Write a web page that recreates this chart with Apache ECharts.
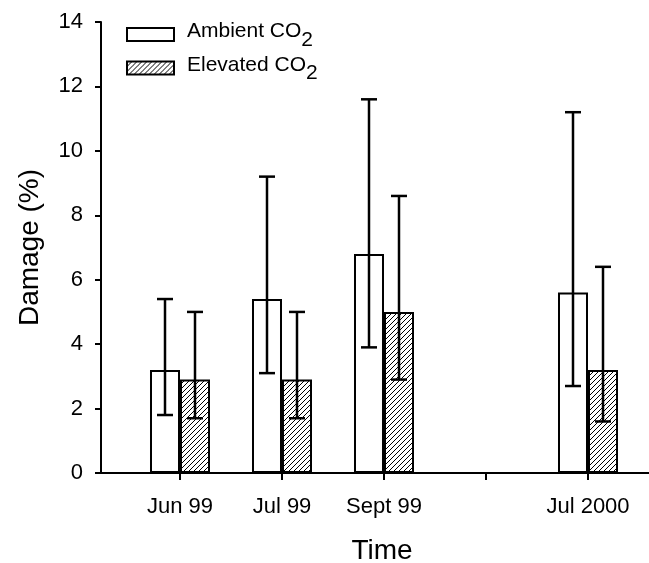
<!DOCTYPE html>
<html>
<head>
<meta charset="utf-8">
<script src="https://cdn.jsdelivr.net/npm/echarts@6/dist/echarts.min.js"></script>
<style>html,body{margin:0;padding:0;background:#fff}#c{width:649px;height:563px}</style>
</head>
<body>
<div id="c"></div>
<script>
const categories = ['Jun 99', 'Jul 99', 'Sept 99', '', 'Jul 2000'];
const yTicks = [0, 2, 4, 6, 8, 10, 12, 14];
const ambient = [3.2, 5.4, 6.8, null, 5.6];
const ambientLow = [1.8, 3.1, 3.9, null, 2.7];
const ambientHigh = [5.4, 9.2, 11.6, null, 11.2];
const elevated = [2.9, 2.9, 5.0, null, 3.2];
const elevatedLow = [1.7, 1.7, 2.9, null, 1.6];
const elevatedHigh = [5.0, 5.0, 8.6, null, 6.4];

const FONT = '"Liberation Sans", Arial, sans-serif';

function hatch() {
  const s = 5;
  const c = document.createElement('canvas');
  c.width = s; c.height = s;
  const g = c.getContext('2d');
  g.fillStyle = '#fff'; g.fillRect(0, 0, s, s);
  g.strokeStyle = '#000'; g.lineWidth = 1;
  g.beginPath();
  g.moveTo(-1, s + 1); g.lineTo(s + 1, -1);
  g.moveTo(-1 - s, s + 1); g.lineTo(1, -1);
  g.moveTo(s - 1, 2 * s + 1); g.lineTo(2 * s + 1, s - 1);
  g.stroke();
  return c;
}

function barData(vals) {
  return vals.map((v, i) => v == null ? null : [i, v]).filter(d => d);
}
function errData(lo, hi) {
  return lo.map((v, i) => v == null ? null : [i, lo[i], hi[i]]).filter(d => d);
}
function errRender(offset) {
  return function (params, api) {
    const x = api.value(0);
    const pLo = api.coord([x, api.value(1)]);
    const pHi = api.coord([x, api.value(2)]);
    const cx = pLo[0] + offset;
    const hw = 8;
    const st = { stroke: '#000', lineWidth: 2.5 };
    return {
      type: 'group',
      children: [
        { type: 'line', shape: { x1: cx, y1: pLo[1], x2: cx, y2: pHi[1] }, style: st },
        { type: 'line', shape: { x1: cx - hw, y1: pLo[1], x2: cx + hw, y2: pLo[1] }, style: st },
        { type: 'line', shape: { x1: cx - hw, y1: pHi[1], x2: cx + hw, y2: pHi[1] }, style: st }
      ]
    };
  };
}

const pattern = { image: hatch(), repeat: 'repeat' };
const chart = echarts.init(document.getElementById('c'), null, { renderer: 'canvas' });
chart.setOption({
  animation: false,
  backgroundColor: '#fff',
  textStyle: { fontFamily: FONT, color: '#000' },
  grid: { left: 101, right: -14, top: 22, bottom: 90, containLabel: false, outerBoundsMode: 'none' },
  legend: {
    orient: 'vertical',
    left: 126, top: 21, padding: 0,
    itemWidth: 47, itemHeight: 13, itemGap: 4,
    icon: 'rect',
    data: ['Ambient CO2', 'Elevated CO2'],
    formatter: function (name) {
      return '{t|' + name.slice(0, -1) + '}{s|2}';
    },
    textStyle: {
      color: '#000', fontFamily: FONT, fontSize: 21,
      rich: {
        t: { fontSize: 21, fontFamily: FONT, color: '#000', padding: [0, 0, 6, 8] },
        s: { fontSize: 21, fontFamily: FONT, color: '#000', padding: [11, 0, 0, 0] }
      }
    }
  },
  xAxis: {
    type: 'value',
    min: -0.7745, max: 4.7353,
    name: 'Time', nameLocation: 'middle', nameGap: 64,
    nameTextStyle: { fontSize: 28, fontFamily: FONT, color: '#000' },
    axisLine: { show: true, onZero: false, lineStyle: { color: '#000', width: 2 } },
    axisTick: { show: true, inside: false, length: 7, customValues: [0, 1, 2, 3, 4], lineStyle: { color: '#000', width: 2 } },
    axisLabel: {
      customValues: [0, 1, 2, 4], margin: 23, fontSize: 22, fontFamily: FONT, color: '#000',
      formatter: v => categories[Math.round(v)]
    },
    splitLine: { show: false }
  },
  yAxis: {
    type: 'value',
    min: yTicks[0], max: yTicks[yTicks.length - 1], interval: 2,
    name: 'Damage (%)', nameLocation: 'middle', nameGap: 57, nameRotate: 90,
    nameTextStyle: { fontSize: 28, fontFamily: FONT, color: '#000' },
    axisLine: { show: true, onZero: false, lineStyle: { color: '#000', width: 2 } },
    axisTick: { show: true, inside: false, length: 6, lineStyle: { color: '#000', width: 2 } },
    axisLabel: { margin: 18, fontSize: 22, fontFamily: FONT, color: '#000' },
    splitLine: { show: false }
  },
  series: [
    {
      name: 'Ambient CO2', type: 'bar', barWidth: 30, barGap: '0%',
      data: barData(ambient),
      itemStyle: { color: '#fff', borderColor: '#000', borderWidth: 2 },
      z: 2
    },
    {
      name: 'Elevated CO2', type: 'bar', barWidth: 30, barGap: '0%',
      data: barData(elevated),
      itemStyle: { color: pattern, borderColor: '#000', borderWidth: 2 },
      z: 2
    },
    {
      type: 'custom', name: 'errA', data: errData(ambientLow, ambientHigh),
      renderItem: errRender(-15), z: 5, silent: true
    },
    {
      type: 'custom', name: 'errE', data: errData(elevatedLow, elevatedHigh),
      renderItem: errRender(15), z: 5, silent: true
    }
  ]
});
</script>
</body>
</html>
